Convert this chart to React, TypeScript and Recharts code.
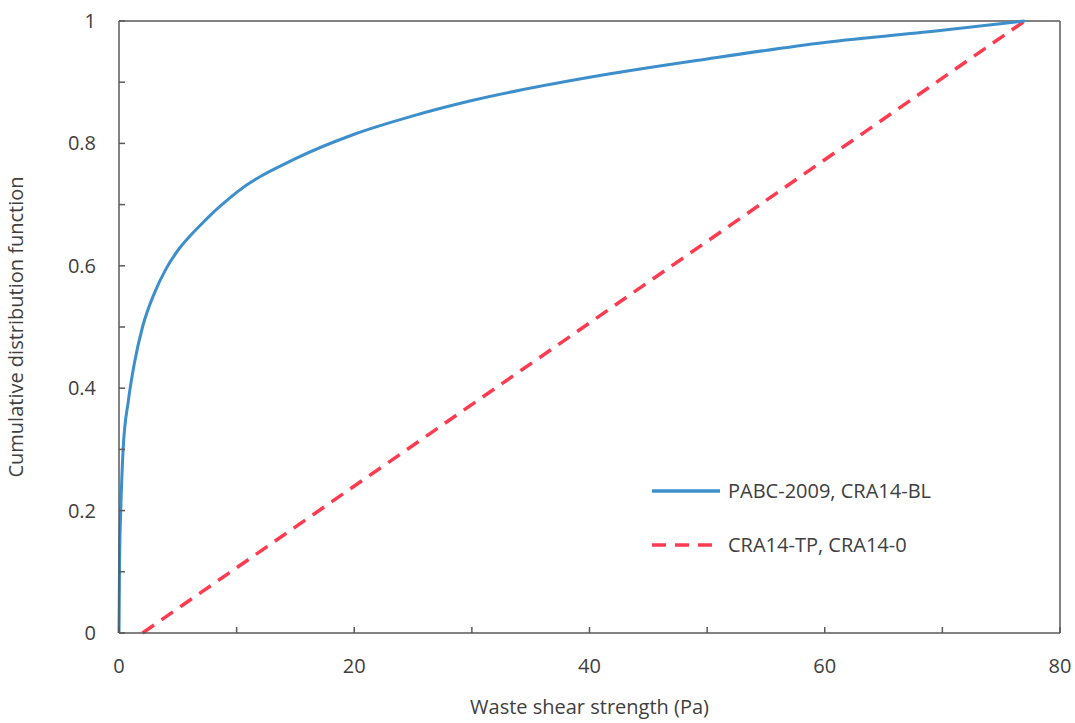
import { LineChart, Line, XAxis, YAxis, ReferenceLine } from "recharts"

const blueX = [0, 0.05, 0.15, 0.35, 0.8, 1.3, 2, 3, 4, 5, 6, 7, 8, 9, 10, 15, 20, 25, 30, 40, 50, 60, 70, 77]
const blueY = [0, 0.12, 0.2, 0.3, 0.38, 0.44, 0.5, 0.555, 0.595, 0.625, 0.648, 0.668, 0.687, 0.704, 0.72, 0.775, 0.815, 0.845, 0.87, 0.908, 0.938, 0.965, 0.985, 1]
const redX = [2, 77]
const redY = [0, 1]
const xTicks = [0, 10, 20, 30, 40, 50, 60, 70, 80]
const yTicks = [0, 0.1, 0.2, 0.3, 0.4, 0.5, 0.6, 0.7, 0.8, 0.9, 1]

const blueData = blueX.map((x, i) => ({ x, y: blueY[i] }))
const redData = redX.map((x, i) => ({ x, y: redY[i] }))

const FONT = "'Open Sans', sans-serif"
const FS = 20
const TXT = "#404040"
const AXIS = "#595959"
const BLUE = "#3d8fcc"
const RED = "#ff3b50"

const PLOT_LEFT = 119
const PLOT_BOTTOM = 633

function XTick(props: any) {
  const { x, payload } = props
  const v = payload.value
  return (
    <g>
      <line x1={x} x2={x} y1={PLOT_BOTTOM} y2={PLOT_BOTTOM - 6} stroke={AXIS} strokeWidth={1.5} />
      {v % 20 === 0 && (
        <text x={x} y={PLOT_BOTTOM + 40} textAnchor="middle" fill={TXT} fontSize={FS} fontFamily={FONT}>
          {v}
        </text>
      )}
    </g>
  )
}

function YTick(props: any) {
  const { y, payload } = props
  const v = payload.value
  const show = Math.round(v * 10) % 2 === 0
  return (
    <g>
      <line x1={PLOT_LEFT} x2={PLOT_LEFT + 6} y1={y} y2={y} stroke={AXIS} strokeWidth={1.5} />
      {show && (
        <text x={96} y={y + 7} textAnchor="end" fill={TXT} fontSize={FS} fontFamily={FONT}>
          {Number(v.toFixed(1))}
        </text>
      )}
    </g>
  )
}

function LegendBox() {
  return (
    <svg
      width={420}
      height={110}
      style={{ position: "absolute", left: 648, top: 479, overflow: "visible", pointerEvents: "none" }}
    >
      <line x1={4} x2={72} y1={12} y2={12} stroke={BLUE} strokeWidth={3.5} />
      <text x={80} y={19} fill={TXT} fontSize={FS} fontFamily={FONT}>PABC-2009, CRA14-BL</text>
      <line x1={4} x2={72} y1={66} y2={66} stroke={RED} strokeWidth={3.5} strokeDasharray="14 9" />
      <text x={80} y={73} fill={TXT} fontSize={FS} fontFamily={FONT}>CRA14-TP, CRA14-0</text>
    </svg>
  )
}

export default function App() {
  return (
    <div style={{ position: "absolute", left: 0, top: 0, width: 1075, height: 723, background: "#fff" }}>
      <LineChart width={1075} height={723} margin={{ top: 21, right: 15, bottom: 0, left: 0 }}>
        <XAxis
          type="number"
          dataKey="x"
          domain={[0, 80]}
          ticks={xTicks}
          interval={0}
          stroke={AXIS}
          strokeWidth={1.5}
          tickLine={false}
          tick={<XTick />}
          height={90}
          allowDuplicatedCategory={false}
          label={{
            value: "Waste shear strength (Pa)",
            position: "insideBottom",
            offset: 9,
            fill: TXT,
            fontSize: FS,
            fontFamily: FONT,
          }}
        />
        <YAxis
          type="number"
          dataKey="y"
          domain={[0, 1]}
          ticks={yTicks}
          interval={0}
          stroke={AXIS}
          strokeWidth={1.5}
          tickLine={false}
          tick={<YTick />}
          width={119}
          label={{
            value: "Cumulative distribution function",
            angle: -90,
            position: "insideLeft",
            offset: 16,
            fill: TXT,
            fontSize: FS,
            fontFamily: FONT,
            style: { textAnchor: "middle" },
          }}
        />
        <ReferenceLine y={1} stroke={AXIS} strokeWidth={1.5} />
        <ReferenceLine x={80} stroke={AXIS} strokeWidth={1.5} />
        <Line
          data={redData}
          dataKey="y"
          type="linear"
          stroke={RED}
          strokeWidth={3.5}
          strokeDasharray="14 9"
          dot={false}
          isAnimationActive={false}
          name="CRA14-TP, CRA14-0"
        />
        <Line
          data={blueData}
          dataKey="y"
          type="monotone"
          stroke={BLUE}
          strokeWidth={3}
          dot={false}
          isAnimationActive={false}
          name="PABC-2009, CRA14-BL"
        />
      </LineChart>
      <LegendBox />
    </div>
  )
}
